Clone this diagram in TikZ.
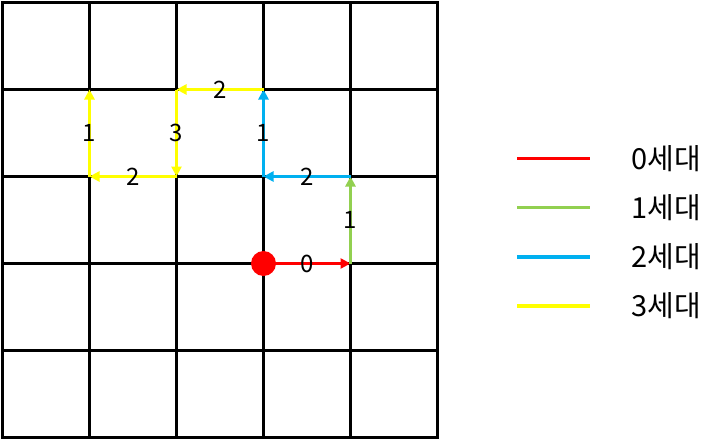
\documentclass[tikz,border=0pt]{standalone}
\usepackage{fontspec}
\setmainfont{Noto Sans CJK KR}
\usetikzlibrary{arrows.meta}

\begin{document}
\begin{tikzpicture}[x=1pt,y=-1pt,line width=3.4pt]
\definecolor{figred}{RGB}{255,0,0}
\definecolor{figgreen}{RGB}{146,208,80}
\definecolor{figblue}{RGB}{0,176,240}
\definecolor{figyellow}{RGB}{255,255,0}
\providecommand{\flbl}{\fontsize{24}{26}\selectfont}
\providecommand{\fleg}{\fontsize{29}{31}\selectfont}
\tikzset{
  genarrow/.style={line width=3.4pt,-{Triangle[length=10pt,width=10pt]}},
  steplbl/.style={inner sep=0pt,font=\flbl,text=black},
  legline/.style={line width=3.6pt},
  legtext/.style={anchor=west,inner sep=0pt,font=\fleg}
}
\useasboundingbox (0,0) rectangle (720,439);
% grid
\draw[draw=black] (2.5,2.5) rectangle (437.5,437.5);
\draw[draw=black] (89.5,2.5) -- (89.5,437.5);
\draw[draw=black] (176.5,2.5) -- (176.5,437.5);
\draw[draw=black] (263.5,2.5) -- (263.5,437.5);
\draw[draw=black] (350.5,2.5) -- (350.5,437.5);
\draw[draw=black] (2.5,89.5) -- (437.5,89.5);
\draw[draw=black] (2.5,176.5) -- (437.5,176.5);
\draw[draw=black] (2.5,263.5) -- (437.5,263.5);
\draw[draw=black] (2.5,350.5) -- (437.5,350.5);
% path points
\coordinate (p0) at (263.5,263.5);
\coordinate (p1) at (350.5,263.5);
\coordinate (p2) at (350.5,176.5);
\coordinate (p3) at (263.5,176.5);
\coordinate (p4) at (263.5,89.5);
\coordinate (p5) at (176.5,89.5);
\coordinate (p6) at (176.5,176.5);
\coordinate (p7) at (89.5,176.5);
\coordinate (p8) at (89.5,89.5);
\draw[genarrow,figred] (p0) -- node[steplbl] (l0) {0} (p1);
\draw[genarrow,figgreen] (p1) -- node[steplbl] (l1) {1} (p2);
\draw[genarrow,figblue] (p2) -- node[steplbl] (l2) {2} (p3);
\draw[genarrow,figblue] (p3) -- node[steplbl] (l3) {1} (p4);
\draw[genarrow,figyellow] (p4) -- node[steplbl] (l4) {2} (p5);
\draw[genarrow,figyellow] (p5) -- node[steplbl] (l5) {3} (p6);
\draw[genarrow,figyellow] (p6) -- node[steplbl] (l6) {2} (p7);
\draw[genarrow,figyellow] (p7) -- node[steplbl] (l7) {1} (p8);
\node[circle,fill=figred,minimum size=25pt,inner sep=0pt] (start) at (p0) {};
% legend
\draw[legline,figred] (517,158.5) -- (590,158.5);
\node[legtext] (g0) at (630,158.5) {0세대};
\draw[legline,figgreen] (517,207.5) -- (590,207.5);
\node[legtext] (g1) at (630,207.5) {1세대};
\draw[legline,figblue] (517,257) -- (590,257);
\node[legtext] (g2) at (630,257) {2세대};
\draw[legline,figyellow] (517,306) -- (590,306);
\node[legtext] (g3) at (630,306) {3세대};
\end{tikzpicture}
\end{document}
